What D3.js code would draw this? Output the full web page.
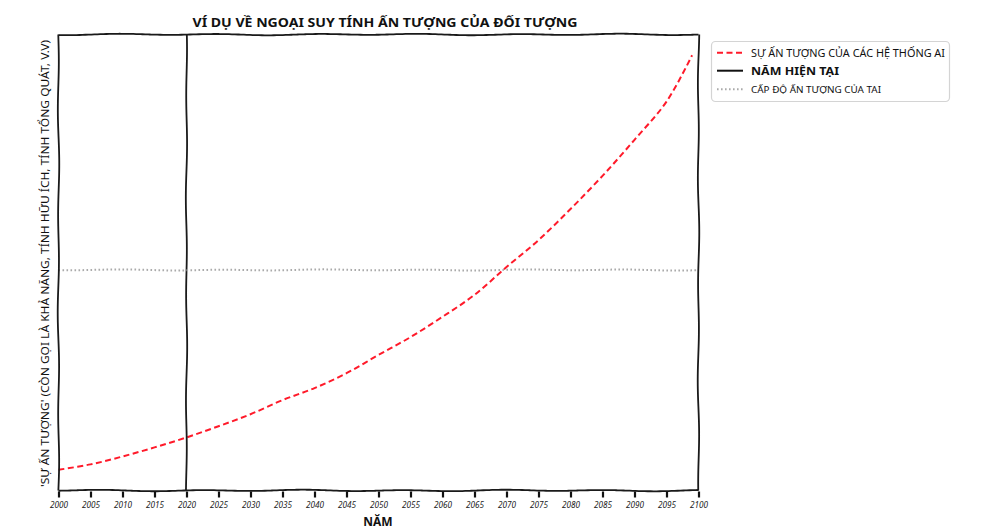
<!DOCTYPE html>
<html><head><meta charset="utf-8">
<script src="https://cdn.jsdelivr.net/npm/d3@7"></script>
<style>
html,body{margin:0;padding:0;background:#fff;}
svg text{font-family:"Noto Sans","DejaVu Sans",sans-serif;}
</style></head><body>
<svg id="chart" width="983" height="529"></svg>
<script>
// ---- data ----
const years = [2000,2005,2010,2015,2020,2025,2030,2035,2040,2045,2050,2055,2060,2065,2070,2075,2080,2085,2090,2095,2099];
const impressiveness = [0,1.3,3.2,5.4,7.8,10.5,13.4,16.8,19.7,23.3,27.7,32.0,36.9,42.2,48.9,55.4,62.9,70.9,79.6,88.8,100];
const currentYear = 2020;
const taiLevel = 48.2;
const xTickValues = [2000,2005,2010,2015,2020,2025,2030,2035,2040,2045,2050,2055,2060,2065,2070,2075,2080,2085,2090,2095,2100];
const titleText = "Ví dụ về ngoại suy tính ấn tượng của đối tượng";
const xLabelText = "Năm";
const yLabelText = "'Sự ấn tượng' (còn gọi là khả năng, tính hữu ích, tính tổng quát, v.v)";
const legendLabels = ["Sự ấn tượng của các hệ thống AI", "Năm hiện tại", "Cấp độ ấn tượng của TAI"];

const up = s => s.toUpperCase();

// ---- layout ----
const svg = d3.select("#chart");
const L = 58.5, R = 698.5, T = 34.5, B = 490.5;
const x = d3.scaleLinear().domain([2000, 2100]).range([L, R]);
const y = d3.scaleLinear().domain([-5, 105]).range([B, T]);

function wiggle(pts, amp, seed){
  amp = amp === undefined ? 1.0 : amp; seed = seed || 0;
  const out = []; let s = 0;
  for (let i = 0; i < pts.length - 1; i++){
    const x0 = pts[i][0], y0 = pts[i][1], x1 = pts[i+1][0], y1 = pts[i+1][1];
    const len = Math.hypot(x1-x0, y1-y0); const n = Math.max(1, Math.ceil(len/3));
    const nx = -(y1-y0)/len, ny = (x1-x0)/len;
    for (let k = 0; k <= n; k++){
      if (k === 0 && i > 0) continue;
      const t = k/n, ss = s + t*len;
      const o = amp*(Math.sin(ss/16 + seed)*0.7 + Math.sin(ss/37 + seed*2.3)*0.3);
      out.push([x0+(x1-x0)*t+nx*o, y0+(y1-y0)*t+ny*o]);
    }
    s += len;
  }
  return d3.line().curve(d3.curveBasis)(out);
}

// title
svg.append("text").attr("x", 385).attr("y", 27)
  .attr("text-anchor","middle").attr("font-size", 13).attr("font-weight","bold").attr("fill","#111")
  .attr("textLength", 385).attr("lengthAdjust","spacingAndGlyphs").text(up(titleText));

// data line
const data = years.map((yr, i) => ({year: yr, v: impressiveness[i]}));
const line = d3.line().x(d => x(d.year)).y(d => y(d.v)).curve(d3.curveCatmullRom.alpha(0.5));
svg.append("path").datum(data).attr("d", line)
  .attr("fill","none").attr("stroke","#ff1a2a").attr("stroke-width", 2)
  .attr("stroke-dasharray","6,3.5").attr("stroke-linecap","butt");

// current year vertical line
svg.append("path").attr("d", wiggle([[x(currentYear), T], [x(currentYear), B]], 0.7, 4))
  .attr("fill","none").attr("stroke","#1a1a1a").attr("stroke-width", 1.8);

// TAI level
svg.append("path").attr("d", wiggle([[L, y(taiLevel)], [R, y(taiLevel)]], 0.6, 7))
  .attr("fill","none").attr("stroke","#aaaaaa").attr("stroke-width", 2)
  .attr("stroke-dasharray","1.6,2.4");

// spines
const spineStyle = p => p.attr("fill","none").attr("stroke","#1a1a1a").attr("stroke-width", 1.8);
spineStyle(svg.append("path").attr("d", wiggle([[L, T], [R, T]], 0.8, 1)));
spineStyle(svg.append("path").attr("d", wiggle([[L, B], [R, B]], 0.8, 2)));
spineStyle(svg.append("path").attr("d", wiggle([[L, T], [L, B]], 0.8, 3)));
spineStyle(svg.append("path").attr("d", wiggle([[R, T], [R, B]], 0.8, 5)));

// x axis ticks
const xAxis = d3.axisBottom(x).tickValues(xTickValues).tickFormat(d3.format("d")).tickSize(6).tickPadding(5);
const gx = svg.append("g").attr("transform", `translate(0,${B + 1})`).call(xAxis);
gx.select(".domain").remove();
gx.selectAll(".tick line").attr("stroke","#111").attr("stroke-width", 2.2);
gx.selectAll(".tick text").attr("font-size", 8).attr("fill","#222")
  .attr("font-family","'DejaVu Sans', sans-serif").attr("font-style","italic").attr("textLength", 18).attr("lengthAdjust","spacingAndGlyphs");

// x label
svg.append("text").attr("x", 378).attr("y", 526).attr("text-anchor","middle")
  .attr("font-size", 12).attr("font-weight","bold").attr("fill","#111").text(up(xLabelText));

// y label
svg.append("text").attr("transform", `translate(49,${(40+487)/2}) rotate(-90)`)
  .attr("text-anchor","middle").attr("font-size", 10.5).attr("fill","#111")
  .attr("textLength", 447).attr("lengthAdjust","spacingAndGlyphs").text(up(yLabelText));

// legend
const lg = svg.append("g");
lg.append("rect").attr("x", 711.5).attr("y", 41.5).attr("width", 238).attr("height", 60).attr("rx", 4)
  .attr("fill","#fff").attr("stroke","#d4d4d4").attr("stroke-width", 1.2);
const legendStyles = [
  {stroke:"#ff1a2a", dash:"6,3.5", w:2, size:10, weight:"normal", len:194},
  {stroke:"#111", dash:null, w:2, size:11, weight:"bold", len:88},
  {stroke:"#aaaaaa", dash:"1.6,2.4", w:2, size:8.5, weight:"normal", len:130}
];
const rowY = [52.7, 70.7, 89.3];
legendLabels.forEach((lab, i) => {
  const st = legendStyles[i];
  const p = lg.append("line").attr("x1", 717).attr("x2", 743).attr("y1", rowY[i]).attr("y2", rowY[i])
    .attr("stroke", st.stroke).attr("stroke-width", st.w);
  if (st.dash) p.attr("stroke-dasharray", st.dash);
  lg.append("text").attr("x", 751).attr("y", rowY[i] + 4)
    .attr("font-size", st.size).attr("font-weight", st.weight).attr("fill", "#111")
    .attr("textLength", st.len).attr("lengthAdjust","spacingAndGlyphs").text(up(lab));
});
</script>
</body></html>
